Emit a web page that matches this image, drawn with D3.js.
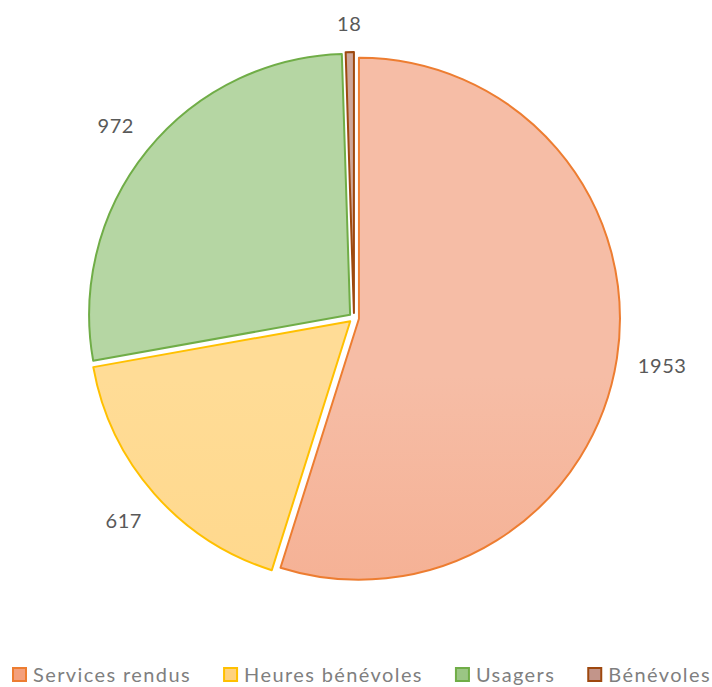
<!DOCTYPE html>
<html><head><meta charset="utf-8">
<script src="https://cdn.jsdelivr.net/npm/d3@7"></script>
<style>html,body{margin:0;padding:0;background:#fff;}svg{display:block;}</style>
</head><body>
<svg id="c" width="712" height="687"></svg>
<script>
const categories = ["Services rendus", "Heures bénévoles", "Usagers", "Bénévoles"];
const values = [1953, 617, 972, 18];
const fillTop = ["#f6bda6", "#ffdc96", "#b5d6a3", "#cfa89c"];
const fillBottom = ["#f4a07c", "#ffd27e", "#9bc684", "#c2958a"];
const strokes = ["#ed7d31", "#ffc000", "#70ad47", "#9e480e"];

const W = 712, H = 687;
const cx = 354, cy = 318, R = 261, explode = 5;
const svg = d3.select("#c");
const defs = svg.append("defs");
categories.forEach((c, i) => {
  const g = defs.append("linearGradient").attr("id", "g" + i)
    .attr("gradientUnits", "userSpaceOnUse")
    .attr("x1", 0).attr("y1", cy - R).attr("x2", 0).attr("y2", cy + R);
  g.append("stop").attr("offset", "0%").attr("stop-color", fillTop[i]);
  g.append("stop").attr("offset", "100%").attr("stop-color", fillBottom[i]);
});

const pie = d3.pie().sort(null).value(d => d).startAngle(0).endAngle(2 * Math.PI);
const arcs = pie(values);
const arc = d3.arc().innerRadius(0).outerRadius(R);

const gPie = svg.append("g");
gPie.selectAll("path").data(arcs).enter().append("path")
  .attr("d", arc)
  .attr("transform", d => {
    const m = (d.startAngle + d.endAngle) / 2;
    return `translate(${cx + explode * Math.sin(m)},${cy - explode * Math.cos(m)})`;
  })
  .attr("fill", (d, i) => `url(#g${i})`)
  .attr("stroke", (d, i) => strokes[i])
  .attr("stroke-width", 2)
  .attr("stroke-linejoin", "round");

// labels
const gLab = svg.append("g");
arcs.forEach((d, i) => {
  const m = (d.startAngle + d.endAngle) / 2;
  const t = gLab.append("text").text(values[i])
    .attr("font-family", "Lato, 'Open Sans', sans-serif")
    .attr("font-size", 20).attr("letter-spacing", 0.6).attr("fill", "#595959")
    .attr("text-anchor", "middle").attr("dominant-baseline", "central");
  const bb = t.node().getBBox();
  const s = Math.sin(m), c = Math.cos(m);
  const r = R + explode + 18 + Math.abs(s) * (bb.width / 2 + 2) + Math.abs(c) * 11;
  t.attr("x", cx + r * s).attr("y", cy - r * c);
});

// legend
const gLeg = svg.append("g");
let x = 12;
const ly = 673;
categories.forEach((c, i) => {
  gLeg.append("rect").attr("x", x + 1).attr("y", ly - 5).attr("width", 13).attr("height", 13)
    .attr("fill", `url(#g${i})`).attr("stroke", strokes[i]).attr("stroke-width", 2);
  const t = gLeg.append("text").text(c)
    .attr("x", x + 21).attr("y", ly + 1)
    .attr("font-family", "Lato, 'Open Sans', sans-serif")
    .attr("font-size", 20).attr("letter-spacing", 1.4).attr("fill", "#7f7f7f")
    .attr("dominant-baseline", "central");
  x = x + 21 + t.node().getComputedTextLength() + 32;
});
</script>
</body></html>
